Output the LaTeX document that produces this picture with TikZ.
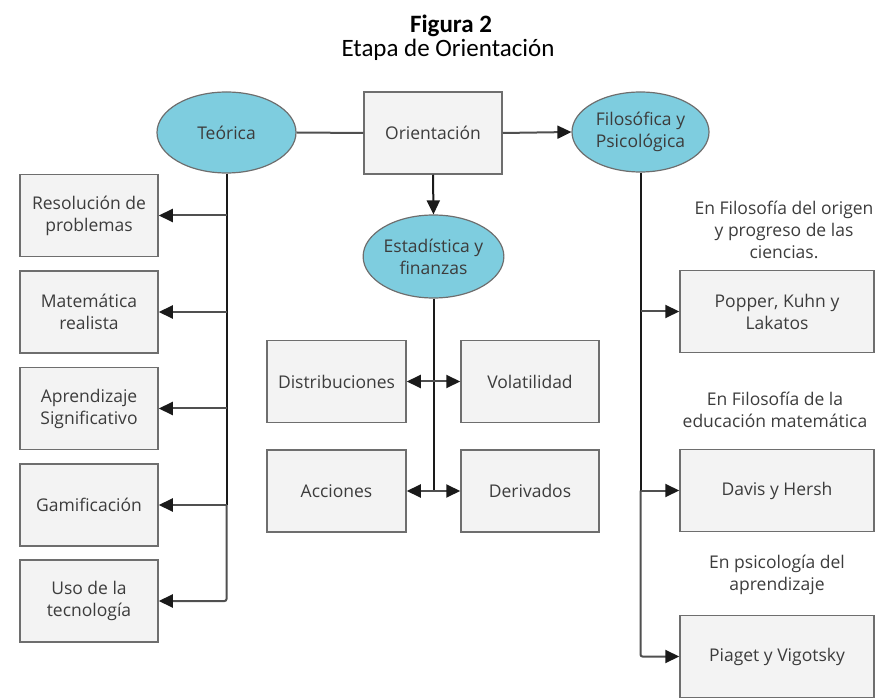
\documentclass[tikz,border=0pt]{standalone}
\usepackage{fontspec}
\setmainfont{Open Sans}
\newfontfamily\titlefont{Carlito}
\usetikzlibrary{shapes.geometric,arrows.meta}

\definecolor{ovalfill}{HTML}{7ECDDF}
\definecolor{boxfill}{HTML}{F3F3F3}
\definecolor{edgegray}{HTML}{6E6E6E}
\definecolor{txtgray}{HTML}{3C3C3C}
\definecolor{trunk}{HTML}{1A1A1A}
\definecolor{twig}{HTML}{505050}

\begin{document}
\begin{tikzpicture}[x=1pt,y=-1pt,
  every node/.style={font=\fontsize{17.5}{22}\selectfont, text=txtgray, align=center, inner sep=0pt},
  oval/.style={ellipse, draw=edgegray, line width=1.2pt, fill=ovalfill, minimum width=139pt, minimum height=81pt},
  box/.style={rectangle, draw=edgegray, line width=1.5pt, fill=boxfill, minimum width=138pt, minimum height=82pt},
  widebox/.style={box, minimum width=194pt},
  titletext/.style={font=\titlefont\fontsize{25}{29}\selectfont, text=black, anchor=base},
  trunkline/.style={draw=trunk, line width=2pt},
  twigline/.style={draw=twig, line width=2pt},
  tip/.style={-{Triangle[length=14pt,width=13pt,fill=trunk,color=trunk]}},
]
\useasboundingbox (0,0) rectangle (889,700);

% heading
\node[titletext] (fig) at (451,33) {\bfseries Figura 2};
\node[titletext] (sub) at (448,57) {Etapa de Orientación};

% top row
\node[oval] (teo) at (226.5,132.5) {Teórica};
\node[box]  (ori) at (433,133) {Orientación};
\node[oval, minimum width=137pt, minimum height=80pt] (fil) at (640.5,132) {Filosófica y\\Psicológica};
\node[oval, minimum height=83pt] (est) at (433.5,256.5) {Estadística y\\finanzas};

% theory column
\node[box] (res) at (89,215.5) {Resolución de\\problemas};
\node[box] (mat) at (89,312)   {Matemática\\realista};
\node[box] (apr) at (89,408.5) {Aprendizaje\\Significativo};
\node[box] (gam) at (89,505)   {Gamificación};
\node[box] (uso) at (89,601)   {Uso de la\\tecnología};

% statistics and finance
\node[box, minimum width=139pt] (dis) at (336.5,381.5) {Distribuciones};
\node[box] (vol) at (530,381.5) {Volatilidad};
\node[box, minimum width=139pt] (acc) at (336.5,491) {Acciones};
\node[box] (der) at (530,491) {Derivados};

% philosophy and psychology
\node (n1) at (784,229.5) {En Filosofía del origen\\y progreso de las\\ciencias.};
\node[widebox] (pop) at (777,311.5) {Popper, Kuhn y\\Lakatos};
\node (n2) at (775,409.5) {En Filosofía de la\\educación matemática};
\node[widebox] (dav) at (777,490.5) {Davis y Hersh};
\node (n3) at (777,574.5) {En psicología del\\aprendizaje};
\node[widebox] (pia) at (777,656.5) {Piaget y Vigotsky};

% top connectors
\draw[twigline] (teo.east) -- (ori.west);
\draw[twigline,tip] (ori.east) -- (fil.west);
\draw[trunkline,tip] (ori.south) -- (est.north);

% theory branches
\draw[trunkline] (teo.south) -- (teo.south |- gam.east);
\draw[twigline,tip,rounded corners=2pt] (teo.south |- gam.east) |- (uso.east);
\foreach \b in {res,mat,apr,gam}
  \draw[twigline,tip] (teo.south |- \b.east) -- (\b.east);

% statistics branches
\draw[trunkline] (est.south) -- (est.south |- acc.east);
\draw[twigline,tip] (est.south |- dis.east) -- (dis.east);
\draw[twigline,tip] (est.south |- vol.west) -- (vol.west);
\draw[twigline,tip] (est.south |- acc.east) -- (acc.east);
\draw[twigline,tip] (est.south |- der.west) -- (der.west);

% philosophy branches
\draw[trunkline] (fil.south) -- (fil.south |- dav.west);
\draw[twigline,tip,rounded corners=2pt] (fil.south |- dav.west) |- (pia.west);
\draw[twigline,tip] (fil.south |- pop.west) -- (pop.west);
\draw[twigline,tip] (fil.south |- dav.west) -- (dav.west);
\end{tikzpicture}
\end{document}
